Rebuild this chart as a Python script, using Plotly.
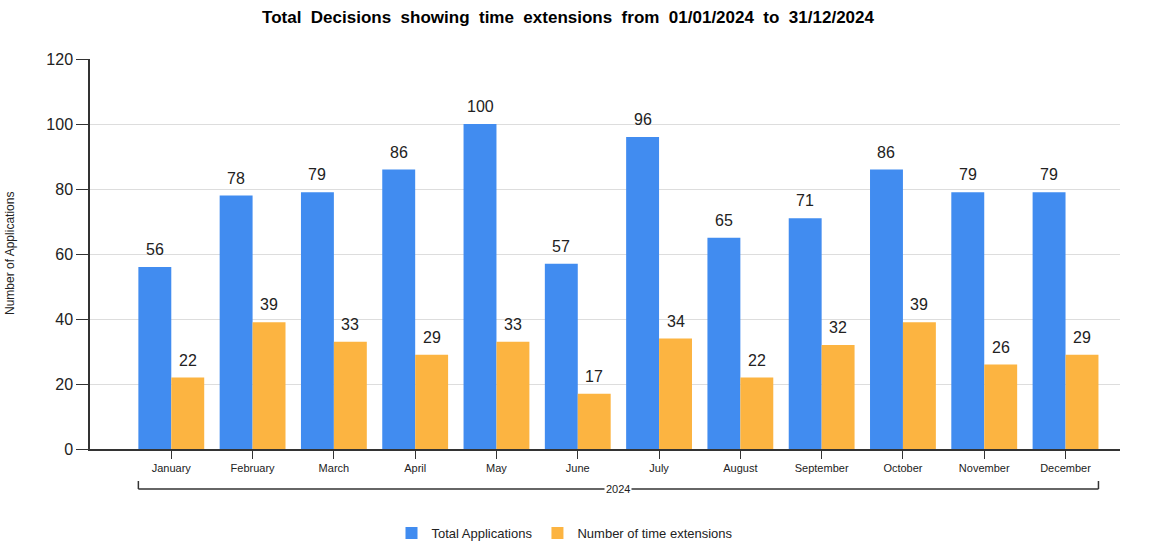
import plotly.graph_objects as go

months = ["January", "February", "March", "April", "May", "June", "July",
          "August", "September", "October", "November", "December"]
total_apps = [56, 78, 79, 86, 100, 57, 96, 65, 71, 86, 79, 79]
time_ext = [22, 39, 33, 29, 33, 17, 34, 22, 32, 39, 26, 29]
y_ticks = [0, 20, 40, 60, 80, 100, 120]
year_label = "2024"

W, H = 1149, 543
L, R, T, B = 90, 29, 59, 94
pw, ph = W - L - R, H - T - B

BLUE, ORANGE = "#418CF0", "#FCB441"
FONT = "Liberation Sans"

fig = go.Figure()
fig.add_trace(go.Bar(x=months, y=total_apps, name="Total Applications",
                     marker=dict(color=BLUE, line=dict(width=0))))
fig.add_trace(go.Bar(x=months, y=time_ext, name="Number of time extensions",
                     marker=dict(color=ORANGE, line=dict(width=0))))

# value labels above bars
half = 0.81 / 4
for i, (a, b) in enumerate(zip(total_apps, time_ext)):
    for off, v in ((-half, a), (half, b)):
        fig.add_annotation(x=i + off, y=v, xref="x", yref="y", text=str(v),
                           showarrow=False, xanchor="center", yanchor="bottom",
                           yshift=7, font=dict(size=16, color="#222222", family=FONT))

title_txt = "Total Decisions showing time extensions from 01/01/2024 to 31/12/2024"
title_txt = title_txt.replace(" ", " &nbsp;")

fig.update_layout(
    width=W, height=H,
    margin=dict(l=L, r=R, t=T, b=B, autoexpand=False),
    paper_bgcolor="white", plot_bgcolor="white",
    font=dict(family=FONT, color="#222222"),
    barmode="group", bargap=0.19, bargroupgap=0,
    title=dict(text="<b>" + title_txt + "</b>",
               x=568 / W, xanchor="center", y=1 - 17 / H, yanchor="middle",
               font=dict(size=17, color="#000000", family=FONT)),
    xaxis=dict(range=[-1, 11.67], showline=True, linecolor="#333333", linewidth=1.5,
               ticks="outside", ticklen=8, tickcolor="#333333",
               tickfont=dict(size=11, color="#222222"), showgrid=False),
    yaxis=dict(range=[0, 120], tickvals=y_ticks, showline=True, linecolor="#333333",
               linewidth=1.5, ticks="outside", ticklen=12, tickcolor="#333333",
               tickfont=dict(size=16, color="#222222"),
               showgrid=True, gridcolor="#DDDDDD", gridwidth=1, zeroline=False),
    legend=dict(orientation="h", x=565 / W, xanchor="center", xref="container",
                y=(543 - 533) / H, yanchor="middle", yref="container",
                font=dict(size=13, color="#222222"), traceorder="normal",
                itemwidth=30),
    showlegend=True,
)

fig.add_annotation(text="Number of Applications", textangle=-90,
                   xref="paper", yref="paper", x=(10 - L) / pw, y=(449 - 254) / ph,
                   xanchor="center", yanchor="middle", showarrow=False,
                   font=dict(size=12, color="#222222"))

# Year bracket beneath categories
yb = -(489 - 449) / ph
yt = -(481 - 449) / ph
lc = dict(color="#333333", width=1.5)
fig.add_shape(type="line", xref="x", yref="paper", x0=-0.405, x1=11.405, y0=yb, y1=yb, line=lc)
fig.add_shape(type="line", xref="x", yref="paper", x0=-0.405, x1=-0.405, y0=yb, y1=yt, line=lc)
fig.add_shape(type="line", xref="x", yref="paper", x0=11.405, x1=11.405, y0=yb, y1=yt, line=lc)
fig.add_annotation(text=year_label, xref="x", yref="paper", x=5.5, y=yb,
                   xanchor="center", yanchor="middle", showarrow=False,
                   bgcolor="white", borderpad=1,
                   font=dict(size=11, color="#222222"))

fig.write_html("out.html", config={"displayModeBar": False},
               post_script="document.body.style.margin='0px';document.body.style.overflow='hidden';")
